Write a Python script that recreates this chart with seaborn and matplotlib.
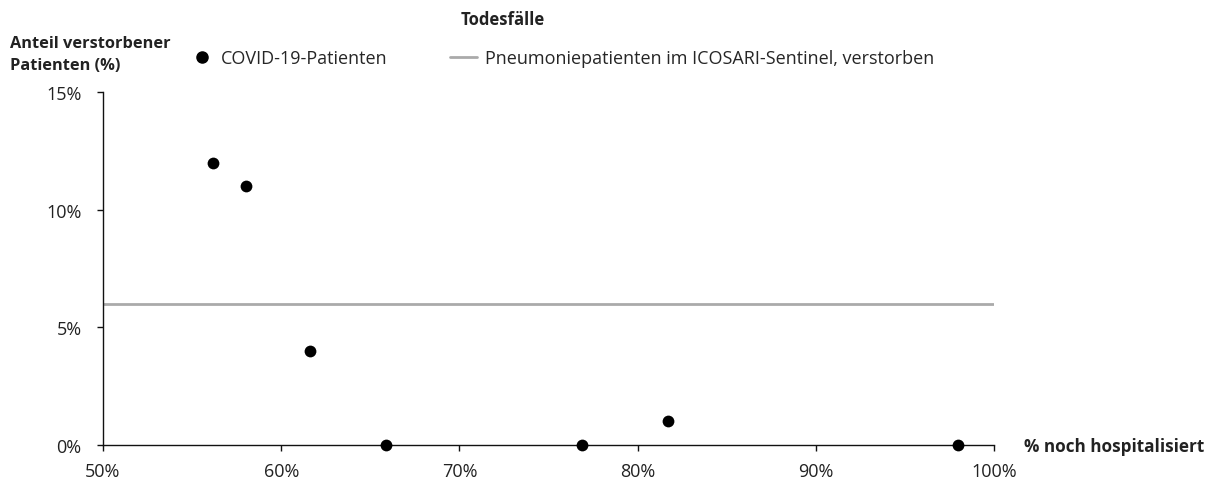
import matplotlib
matplotlib.use("Agg")
import matplotlib.pyplot as plt
import seaborn as sns
import pandas as pd
from matplotlib.lines import Line2D

# Data
pct_still_hospitalized = [56.2, 58.0, 61.6, 65.9, 76.9, 81.7, 98.0]
pct_deceased = [12, 11, 4, 0, 0, 1, 0]
icosari_deceased = 6.0
x_ticks = [50, 60, 70, 80, 90, 100]
y_ticks = [0, 5, 10, 15]

sns.set_theme(style="white")
plt.rcParams['font.family'] = ['Open Sans', 'DejaVu Sans']

df = pd.DataFrame({"x": pct_still_hospitalized, "y": pct_deceased})

fig = plt.figure(figsize=(12.10, 4.81), dpi=100)
ax = fig.add_axes([103/1210, 1-446/481, (994-103)/1210, (446-93)/481])

ax.axhline(icosari_deceased, color="#aaaaaa", lw=2, zorder=1)
sns.scatterplot(data=df, x="x", y="y", ax=ax, color="black", s=72,
                edgecolor="black", linewidth=0, zorder=3, clip_on=False)

ax.set_xlim(50, 100)
ax.set_ylim(0, 15)
ax.set_xticks(x_ticks)
ax.set_yticks(y_ticks)
ax.set_xticklabels([f"{v}%" for v in x_ticks], fontsize=13)
ax.set_yticklabels([f"{v}%" for v in y_ticks], fontsize=13)
ax.set_xlabel("")
ax.set_ylabel("")
for s in ["top", "right"]:
    ax.spines[s].set_visible(False)
for s in ["left", "bottom"]:
    ax.spines[s].set_color("#111111")
    ax.spines[s].set_linewidth(1.0)
ax.tick_params(axis="both", which="both", direction="out", length=4.5,
               width=1.0, color="#111111", labelcolor="#222222",
               bottom=True, left=True)
ax.tick_params(axis="x", pad=8)
ax.tick_params(axis="y", pad=11)

fig.text(503/1210, 1-20/481, "Todesfälle", ha="center", va="center",
         fontsize=12, fontweight="bold", color="#222222")
fig.text(10/1210, 1-55/481, "Anteil verstorbener\nPatienten (%)", ha="left",
         va="center", fontsize=11.8, fontweight="bold", color="#222222",
         linespacing=1.5)
fig.text(1024/1210, 1-447/481, "% noch hospitalisiert", ha="left", va="center",
         fontsize=12.3, fontweight="bold", color="#222222")

h1 = Line2D([], [], marker="o", color="black", linestyle="none", markersize=8)
h2 = Line2D([], [], color="#aaaaaa", lw=2)
common = dict(loc="center left", frameon=False, fontsize=13, handlelength=1.5,
              borderaxespad=0, borderpad=0)
fig.legend([h1], ["COVID-19-Patienten"], bbox_to_anchor=(188/1210, 1-59/481),
           handletextpad=0.3, **common)
fig.legend([h2], ["Pneumoniepatienten im ICOSARI-Sentinel, verstorben"],
           bbox_to_anchor=(450/1210, 1-59/481), handletextpad=0.45, **common)

fig.savefig("out.png", dpi=100)
